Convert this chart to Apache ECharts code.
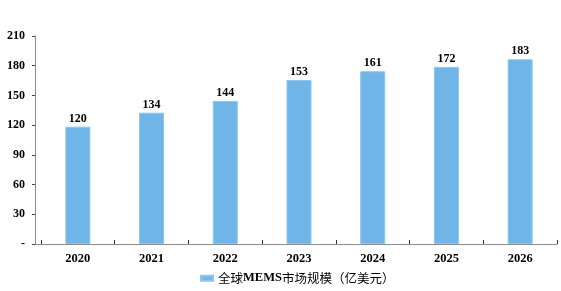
<!DOCTYPE html>
<html>
<head>
<meta charset="utf-8">
<script src="https://cdn.jsdelivr.net/npm/echarts@6/dist/echarts.min.js"></script>
<style>
html,body{margin:0;padding:0;background:#fff;}
#c{width:561px;height:291px;}
</style>
</head>
<body>
<div id="c"></div>
<script>
const categories = ['2020','2021','2022','2023','2024','2025','2026'];
// bar heights as drawn in the reference picture
const barHeights = [118.5, 132.6, 144.4, 165.6, 174.4, 178.8, 186.5];
// value labels printed above the bars
const valueLabels = ['120','134','144','153','161','172','183'];
const yTicks = ['-','30','60','90','120','150','180','210'];
const seriesName = '全球MEMS市场规模（亿美元）';

const serif = '"Liberation Serif","Times New Roman","Noto Sans CJK SC",serif';
const chart = echarts.init(document.getElementById('c'), null, {renderer:'canvas'});
chart.setOption({
  animation:false,
  backgroundColor:'#fff',
  grid:{left:41, right:4, top:36, bottom:47, containLabel:false},
  xAxis:{
    type:'category',
    data:categories,
    axisLine:{lineStyle:{color:'#8c8c8c', width:1}},
    axisTick:{show:true, length:4, inside:true, lineStyle:{color:'#333'}},
    axisLabel:{color:'#000', fontFamily:serif, fontWeight:'bold', fontSize:12.5, margin:9}
  },
  yAxis:{
    type:'value',
    min:0, max:210, interval:30,
    offset:6,
    splitLine:{show:false},
    axisLine:{show:true, lineStyle:{color:'#8c8c8c', width:1}},
    axisTick:{show:true, length:3, lineStyle:{color:'#444'}},
    axisLabel:{
      color:'#000', fontFamily:serif, fontWeight:'bold', fontSize:12, margin:10,
      formatter:function(v){ const i=Math.round(v/30); return yTicks[i]!==undefined?yTicks[i]:v; }
    }
  },
  legend:{
    show:true,
    left:195,
    top:267,
    itemWidth:12, itemHeight:5, itemGap:10,
    icon:'rect',
    data:[seriesName],
    formatter:function(){ return '{a|全球}{b|MEMS}{a|市场规模（亿美元）}'; },
    textStyle:{
      color:'#000', fontSize:12.5, padding:[0,0,0,0],
      rich:{
        a:{fontFamily:'"Noto Sans CJK SC",serif', fontSize:12.5, color:'#000'},
        b:{fontFamily:serif, fontWeight:'bold', fontSize:12.5, color:'#000'}
      }
    }
  },
  series:[{
    name:seriesName,
    type:'bar',
    data:barHeights,
    barWidth:25,
    itemStyle:{color:'#6FB5E8', borderColor:'#8cc6ee', borderWidth:1},
    label:{
      show:true, position:'top', distance:2,
      color:'#000', fontFamily:serif, fontWeight:'bold', fontSize:12,
      formatter:function(p){ return valueLabels[p.dataIndex]; }
    }
  }]
});
// extend the x-axis baseline to meet the offset y-axis line
const y0 = chart.convertToPixel({yAxisIndex:0}, 0);
const gridLeft = chart.convertToPixel({xAxisIndex:0}, 0) - (chart.convertToPixel({xAxisIndex:0}, 1) - chart.convertToPixel({xAxisIndex:0}, 0)) / 2;
chart.setOption({
  graphic:[{
    type:'line', silent:true,
    shape:{x1:gridLeft-6, y1:Math.round(y0)+0.5, x2:gridLeft, y2:Math.round(y0)+0.5},
    style:{stroke:'#8c8c8c', lineWidth:1}
  }]
});
</script>
</body>
</html>
